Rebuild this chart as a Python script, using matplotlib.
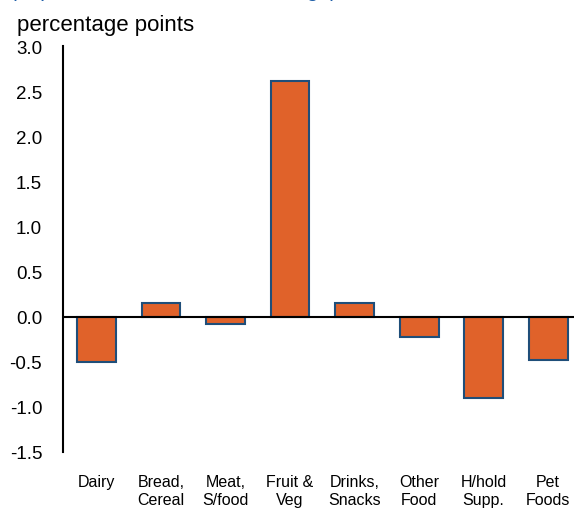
from matplotlib import pyplot as plt
import numpy as np

plt.rcParams['font.family'] = ['Liberation Sans', 'DejaVu Sans']

categories = ['Dairy', 'Bread,\nCereal', 'Meat,\nS/food', 'Fruit &\nVeg',
              'Drinks,\nSnacks', 'Other\nFood', 'H/hold\nSupp.', 'Pet\nFoods']
values = [-0.50, 0.15, -0.08, 2.61, 0.15, -0.22, -0.90, -0.48]
yticks = [-1.5, -1.0, -0.5, 0.0, 0.5, 1.0, 1.5, 2.0, 2.5, 3.0]

fig = plt.figure(figsize=(5.74, 5.10), dpi=100)
ax = fig.add_axes([63 / 574, 57 / 510, 1 - 63 / 574, 406 / 510])

x = np.arange(len(categories))
ax.bar(x, values, width=0.6, color='#E0622A', edgecolor='#1F4E79', linewidth=1.5, zorder=2)
ax.axhline(0, color='black', linewidth=1.5, zorder=3)

ax.set_ylim(-1.5, 3.0)
ax.set_xlim(-0.52, 7.4)
ax.set_yticks(yticks)
ax.set_yticklabels([f'{t:.1f}' for t in yticks], fontsize=13.5)
ax.set_xticks(x)
ax.set_xticklabels(categories, fontsize=11.5, linespacing=1.25, va='top')
ax.tick_params(axis='both', length=0)
ax.tick_params(axis='y', pad=15)
ax.tick_params(axis='x', pad=16)

for s in ['top', 'right', 'bottom']:
    ax.spines[s].set_visible(False)
ax.spines['left'].set_linewidth(1.5)

fig.text(17 / 574, 1 - 26 / 510, 'percentage points', fontsize=16, va='center', ha='left')
fig.text(10 / 574, 1 + 3 / 510, '(Impact on annual inflation change)', fontsize=15,
         va='baseline', ha='left', color='#1F5FA8')

plt.savefig('out.png', dpi=100)
